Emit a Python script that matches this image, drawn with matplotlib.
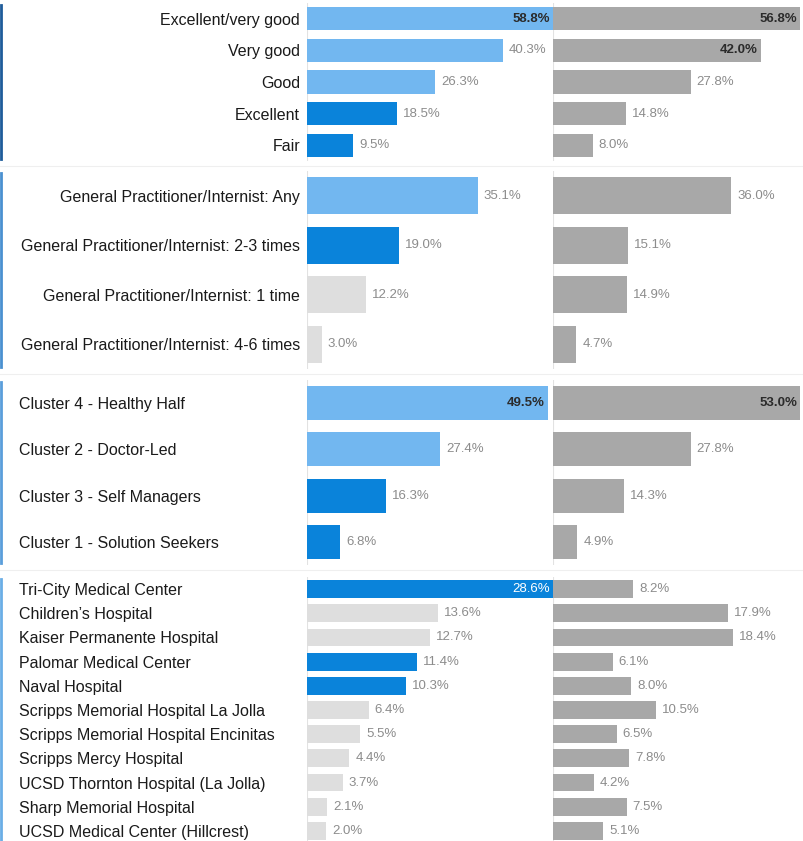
import matplotlib
matplotlib.use('Agg')
import matplotlib.pyplot as plt
from matplotlib.lines import Line2D

plt.rcParams['font.family'] = ['Liberation Sans', 'DejaVu Sans']

# ---- data ----
rating_labels = ['Excellent/very good', 'Very good', 'Good', 'Excellent', 'Fair']
rating_left = [58.8, 40.3, 26.3, 18.5, 9.5]
rating_right = [56.8, 42.0, 27.8, 14.8, 8.0]
rating_colors = ['light', 'light', 'light', 'dark', 'dark']

gp_labels = ['General Practitioner/Internist: Any',
             'General Practitioner/Internist: 2-3 times',
             'General Practitioner/Internist: 1 time',
             'General Practitioner/Internist: 4-6 times']
gp_left = [35.1, 19.0, 12.2, 3.0]
gp_right = [36.0, 15.1, 14.9, 4.7]
gp_colors = ['light', 'dark', 'grey', 'grey']

cluster_labels = ['Cluster 4 - Healthy Half', 'Cluster 2 - Doctor-Led',
                  'Cluster 3 - Self Managers', 'Cluster 1 - Solution Seekers']
cluster_left = [49.5, 27.4, 16.3, 6.8]
cluster_right = [53.0, 27.8, 14.3, 4.9]
cluster_colors = ['light', 'light', 'dark', 'dark']

hosp_labels = ['Tri-City Medical Center', 'Children\u2019s Hospital',
               'Kaiser Permanente Hospital', 'Palomar Medical Center',
               'Naval Hospital', 'Scripps Memorial Hospital La Jolla',
               'Scripps Memorial Hospital Encinitas', 'Scripps Mercy Hospital',
               'UCSD Thornton Hospital (La Jolla)', 'Sharp Memorial Hospital',
               'UCSD Medical Center (Hillcrest)']
hosp_left = [28.6, 13.6, 12.7, 11.4, 10.3, 6.4, 5.5, 4.4, 3.7, 2.1, 2.0]
hosp_right = [8.2, 17.9, 18.4, 6.1, 8.0, 10.5, 6.5, 7.8, 4.2, 7.5, 5.1]
hosp_colors = ['dark', 'grey', 'grey', 'dark', 'dark', 'grey', 'grey',
               'grey', 'grey', 'grey', 'grey']

PALETTE = {'light': '#72B7F0', 'dark': '#0A83DA', 'grey': '#DEDEDE'}
RIGHT_COLOR = '#A8A8A8'

W, H = 804, 841
fig = plt.figure(figsize=(W / 100, H / 100), dpi=100)
fig.patch.set_facecolor('white')

# panel geometry in pixels: (top, bottom, left xmax, right xmax, label align, edge colour)
sections = [
    (rating_labels, rating_left, rating_right, rating_colors, 3, 161, 50.6, 49.9, 'right', '#1E5C9A'),
    (gp_labels, gp_left, gp_right, gp_colors, 171, 369, 50.6, 49.9, 'right', '#4A90D0'),
    (cluster_labels, cluster_left, cluster_right, cluster_colors, 380, 565, 50.6, 49.9, 'left', '#5A9EDB'),
    (hosp_labels, hosp_left, hosp_right, hosp_colors, 577, 843, 25.5, 25.2, 'left', '#6AAEE6'),
]

X0, XM, XR = 307, 553, 800


def draw_bars(ax, vals, colors, xmax, width_px):
    n = len(vals)
    y = list(range(n))
    ax.barh(y, vals, height=0.74, color=colors, zorder=2)
    ax.set_xlim(0, xmax)
    ax.set_ylim(n - 0.5, -0.5)
    ax.axvline(0, color='#E2E2E2', lw=0.8, zorder=1)
    scale = width_px / xmax
    for i, v in enumerate(vals):
        txt = f'{v:.1f}%'
        if v * scale + 42 > width_px:
            xe = min(v, xmax) - 3 / scale
            if colors[i] == PALETTE['dark']:
                ax.text(xe, i, txt, ha='right', va='center', fontsize=9.5,
                        color='white', zorder=3)
            else:
                ax.text(xe, i, txt, ha='right', va='center', fontsize=9.5,
                        color='#2B2B2B', fontweight='bold', zorder=3)
        else:
            ax.text(v + 6 / scale, i, txt, ha='left', va='center',
                    fontsize=9.5, color='#8C8C8C', zorder=3)
    for s in ax.spines.values():
        s.set_visible(False)
    ax.set_xticks([])


for labels, lv, rv, ckeys, top, bot, lmax, rmax, align, edge in sections:
    h = (bot - top) / H
    yb = 1 - bot / H
    axl = fig.add_axes([X0 / W, yb, (XM - X0) / W, h])
    axr = fig.add_axes([XM / W, yb, (XR - XM) / W, h])
    draw_bars(axl, lv, [PALETTE[c] for c in ckeys], lmax, XM - X0)
    draw_bars(axr, rv, [RIGHT_COLOR] * len(rv), rmax, XR - XM)
    axr.set_yticks([])
    axl.set_yticks(range(len(labels)))
    if align == 'right':
        axl.set_yticklabels(labels, fontsize=11.5, color='#1A1A1A')
        axl.tick_params(axis='y', length=0, pad=5)
    else:
        axl.set_yticklabels(labels, fontsize=11.5, color='#1A1A1A', ha='left')
        axl.tick_params(axis='y', length=0, pad=(X0 - 19) * 0.72)
    # blue edge marker on the far left of each panel
    fig.add_artist(Line2D([1.5 / W, 1.5 / W], [1 - (top + 2) / H, 1 - (bot - 2) / H],
                          color=edge, lw=2))
    # faint separator below each panel
    if bot < H:
        sep = 1 - (bot + 5) / H
        fig.add_artist(Line2D([0, 1], [sep, sep], color='#EFEFEF', lw=0.8))

fig.savefig('out.png', dpi=100, facecolor='white')
